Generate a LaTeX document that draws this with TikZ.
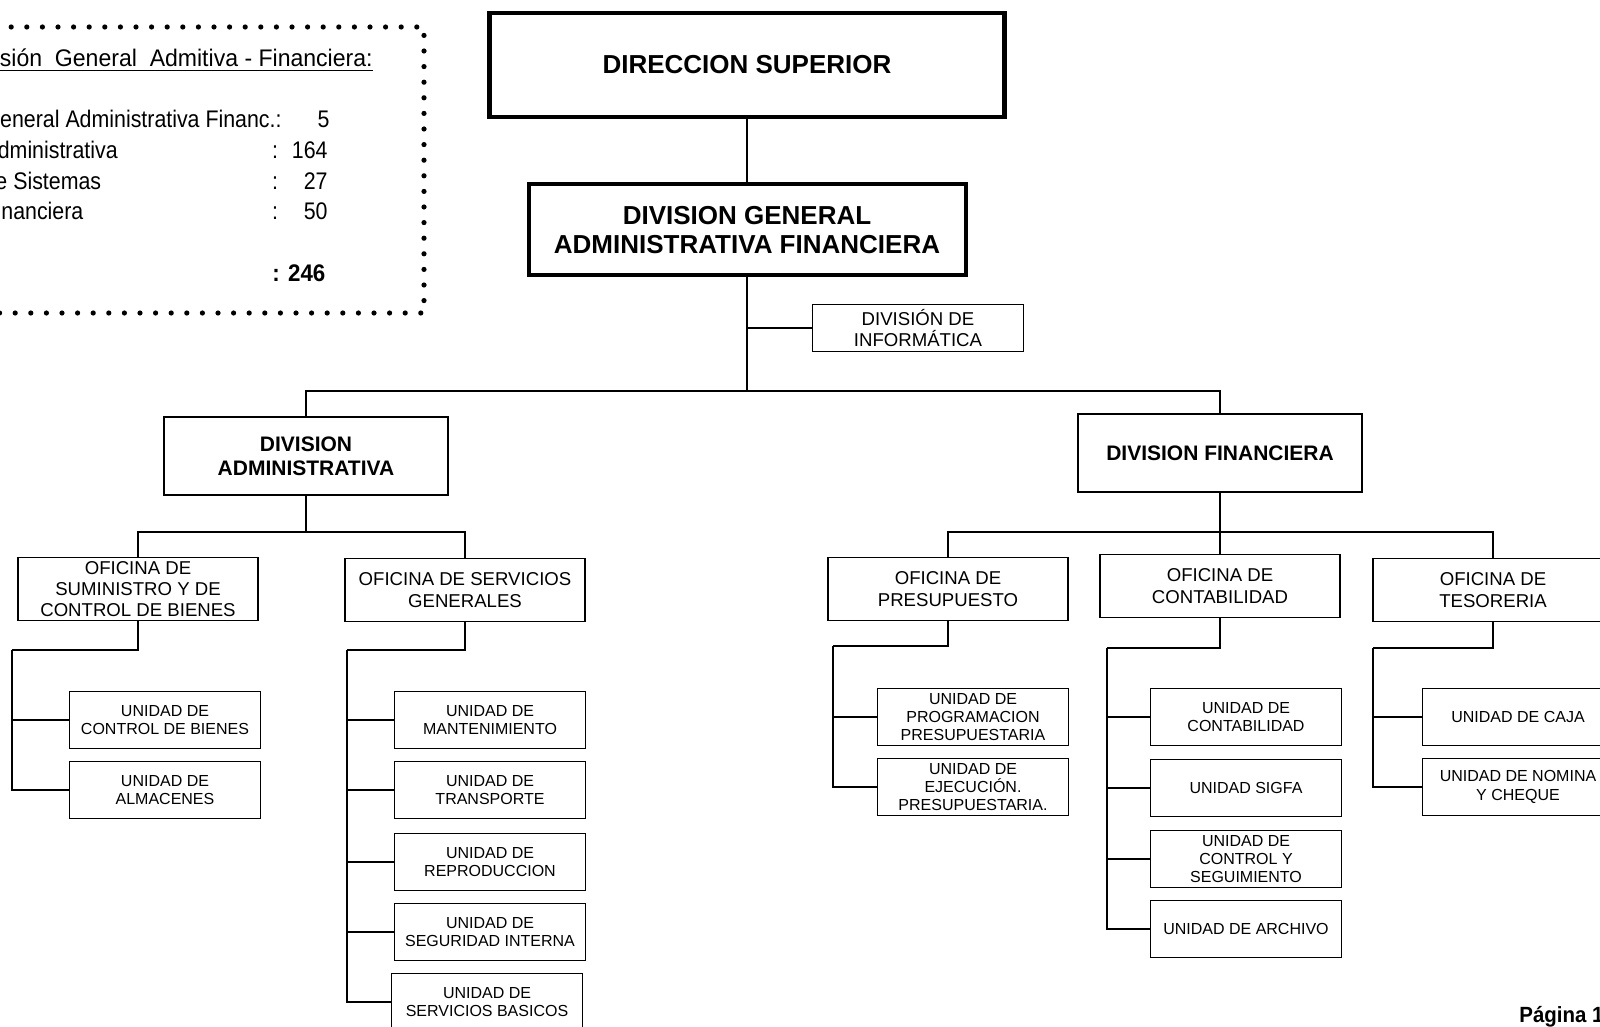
\documentclass[tikz,border=0pt]{standalone}
\usepackage{fontspec}
\setmainfont{Liberation Sans}
\newfontfamily\narrowfont[FakeStretch=0.93]{Liberation Sans}
\newfontfamily\legfont[FakeStretch=0.89]{Liberation Sans}
\newfontfamily\legheadfont[FakeStretch=0.96]{Liberation Sans}

\begin{document}
\begin{tikzpicture}[x=0.5pt, y=-0.5pt,
    topbox/.style={draw, line width=2.2pt, inner sep=0pt, align=center, font=\bfseries\fontsize{13}{14.8}\selectfont},
    divbox/.style={draw, line width=1pt, inner sep=0pt, minimum width=142pt, minimum height=39pt, align=center, font=\bfseries\fontsize{10.5}{11.8}\selectfont},
    ofibox/.style={draw, line width=0.9pt, inner sep=0pt, minimum width=120pt, minimum height=31.5pt, align=center, font=\fontsize{9.3}{10.7}\selectfont},
    unitbox/.style={draw, line width=0.9pt, inner sep=0pt, minimum width=95.5pt, minimum height=28.5pt, align=center, font=\fontsize{8}{9.2}\selectfont},
    legtext/.style={inner sep=0pt, font=\legfont\fontsize{12}{14}\selectfont},
    link/.style={line width=1pt},
    dotbox/.style={line width=2.6pt, dash pattern=on 0pt off 7.8pt, line cap=round}]
  \clip (0,0) rectangle (1600,1027);

  % Legend
  \draw[dotbox] (-20,27) -- (424,27) -- (424,313) -- (-20,313);
  \node[legtext, font=\legheadfont\fontsize{12}{14}\selectfont, anchor=base east] (leghead) at (373,67) {\underline{División\ \ General\ \ Admitiva - Financiera:}};
  \node[legtext, anchor=base east] (row1) at (282,128) {División General Administrativa Financ.:};
  \node[legtext, anchor=base west] (row2) at ([yshift=-15.5pt]row1.base west) {División Administrativa};
  \node[legtext, anchor=base west] (row3) at ([yshift=-31pt]row1.base west) {División de Sistemas};
  \node[legtext, anchor=base west] (row4) at ([yshift=-46pt]row1.base west) {División Financiera};
  \node[legtext, anchor=base east] (num1) at (330,128) {5};
  \node[legtext, anchor=base] (col2) at (275,159) {:};
  \node[legtext, anchor=base] (col3) at (275,190) {:};
  \node[legtext, anchor=base] (col4) at (275,220) {:};
  \node[legtext, anchor=base east] (num2) at (328,159) {164};
  \node[legtext, anchor=base east] (num3) at (328,190) {27};
  \node[legtext, anchor=base east] (num4) at (328,220) {50};
  \node[legtext, font=\narrowfont\bfseries\fontsize{12}{14}\selectfont, anchor=base west] (total) at (272,282) {: 246};

  % Nodes
  \node[topbox, minimum width=257.5pt, minimum height=52pt] (dsup) at (747,65) {DIRECCION SUPERIOR};
  \node[topbox, line width=2pt, minimum width=218.5pt, minimum height=45.5pt] (dgaf) at (747,230) {DIVISION GENERAL\\ADMINISTRATIVA FINANCIERA};
  \node[ofibox, minimum width=105.5pt, minimum height=23.5pt] (info) at (918,328) {DIVISIÓN DE\\INFORMÁTICA};
  \node[divbox] (dadm) at (306,456) {DIVISION\\ADMINISTRATIVA};
  \node[divbox] (dfin) at (1220,453) {DIVISION FINANCIERA};

  \node[ofibox] (sumi) at (138,589) {OFICINA DE\\SUMINISTRO Y DE\\CONTROL DE BIENES};
  \node[ofibox] (sgen) at (465,590) {OFICINA DE SERVICIOS\\GENERALES};
  \node[ofibox] (opre) at (948,589) {OFICINA DE\\PRESUPUESTO};
  \node[ofibox] (ocon) at (1220,586) {OFICINA DE\\CONTABILIDAD};
  \node[ofibox] (otes) at (1493,590) {OFICINA DE\\TESORERIA};

  \node[unitbox] (ucbi) at (165,720) {UNIDAD DE\\CONTROL DE BIENES};
  \node[unitbox] (ualm) at (165,790) {UNIDAD DE\\ALMACENES};

  \node[unitbox] (umant) at (490,720) {UNIDAD DE\\MANTENIMIENTO};
  \node[unitbox] (utran) at (490,790) {UNIDAD DE\\TRANSPORTE};
  \node[unitbox] (urepr) at (490,862) {UNIDAD DE\\REPRODUCCION};
  \node[unitbox] (usegu) at (490,932) {UNIDAD DE\\SEGURIDAD INTERNA};
  \node[unitbox] (usbas) at (487,1002) {UNIDAD DE\\SERVICIOS BASICOS};

  \node[unitbox] (uprog) at (973,717) {UNIDAD DE\\PROGRAMACION\\PRESUPUESTARIA};
  \node[unitbox] (uejec) at (973,787) {UNIDAD DE\\EJECUCIÓN.\\PRESUPUESTARIA.};

  \node[unitbox] (ucont) at (1246,717) {UNIDAD DE\\CONTABILIDAD};
  \node[unitbox] (usigfa) at (1246,788) {UNIDAD SIGFA};
  \node[unitbox] (ucyseg) at (1246,859) {UNIDAD DE\\CONTROL Y\\SEGUIMIENTO};
  \node[unitbox] (uarch) at (1246,929) {UNIDAD DE ARCHIVO};

  \node[unitbox] (ucaja) at (1518,717) {UNIDAD DE CAJA};
  \node[unitbox] (unom) at (1518,787) {UNIDAD DE NOMINA\\Y CHEQUE};

  \node[font=\narrowfont\bfseries\fontsize{11}{13}\selectfont, inner sep=0pt, anchor=base west] (pagina) at (1519,1022) {Página 1};

  % Connectors
  \coordinate (bus) at (747,391);
  \coordinate (admbus) at (306,532);
  \coordinate (finbus) at (1220,532);
  \draw[link] (dsup.south) -- (dgaf.north);
  \draw[link] (dgaf.south) -- (bus);
  \draw[link] (info.west) -- (info.west -| bus);
  \draw[link] (dadm.north) |- (bus) -| (dfin.north);
  \draw[link] (dadm.south) -- (admbus);
  \draw[link] (sumi.north) |- (admbus) -| (sgen.north);
  \draw[link] (dfin.south) -- (ocon.north);
  \draw[link] (opre.north) |- (finbus) -| (otes.north);

  \coordinate (sumispine) at (12,650);
  \coordinate (sgenspine) at (347,650);
  \coordinate (prespine) at (833,646);
  \coordinate (conspine) at (1107,648);
  \coordinate (tesspine) at (1373,648);
  \draw[link] (sumi.south) |- (sumispine);
  \draw[link] (sgen.south) |- (sgenspine);
  \draw[link] (opre.south) |- (prespine);
  \draw[link] (ocon.south) |- (conspine);
  \draw[link] (otes.south) |- (tesspine);
  \foreach \u in {ucbi,ualm}
    \draw[link] (sumispine) |- (\u.west);
  \foreach \u in {umant,utran,urepr,usegu,usbas}
    \draw[link] (sgenspine) |- (\u.west);
  \foreach \u in {uprog,uejec}
    \draw[link] (prespine) |- (\u.west);
  \foreach \u in {ucont,usigfa,ucyseg,uarch}
    \draw[link] (conspine) |- (\u.west);
  \foreach \u in {ucaja,unom}
    \draw[link] (tesspine) |- (\u.west);
\end{tikzpicture}
\end{document}
